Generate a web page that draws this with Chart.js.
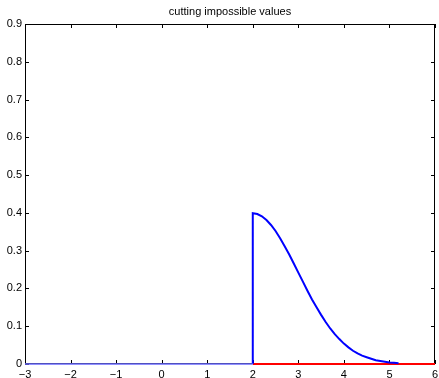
<!DOCTYPE html>
<html>
<head>
<meta charset="utf-8">
<script src="https://cdn.jsdelivr.net/npm/chart.js@4"></script>
<style>
  html, body { margin: 0; padding: 0; background: #fff; }
  #wrap { width: 439px; height: 378px; }
</style>
</head>
<body>
<div id="wrap"><canvas id="myChart"></canvas></div>
<script>
// values
let chartTitle = 'cutting impossible values';
let xTicks = [-3, -2, -1, 0, 1, 2, 3, 4, 5, 6];
let yTicks = [0, 0.1, 0.2, 0.3, 0.4, 0.5, 0.6, 0.7, 0.8, 0.9];

// blue: flat part left of the cut
let flatX = [-3, 2];
let flatY = [0, 0];

// blue: the cut and the remaining curve
let curveX = [2, 2, 2.1, 2.2, 2.3, 2.4, 2.5, 2.6, 2.7, 2.8, 2.9, 3.0, 3.1, 3.2, 3.3, 3.4, 3.5,
  3.6, 3.7, 3.8, 3.9, 4.0, 4.1, 4.2, 4.3, 4.4, 4.5, 4.6, 4.7, 4.8, 4.9, 5.0, 5.1, 5.2];
let curveY = [0, 0.399, 0.397, 0.391, 0.381, 0.368, 0.352, 0.333, 0.312, 0.290, 0.266, 0.242,
  0.218, 0.194, 0.171, 0.150, 0.130, 0.111, 0.094, 0.079, 0.066, 0.054, 0.044, 0.035, 0.028,
  0.022, 0.018, 0.014, 0.010, 0.008, 0.006, 0.004, 0.003, 0.002];

// red: zero line right of the cut
let redX = [2, 6];
let redY = [0, 0];

function toPoints(xs, ys) {
    return xs.map((x, i) => ({ x: x, y: ys[i] }));
}

// matlab style box with inward ticks, title centred over the axes
let boxPlugin = {
    id: 'box',
    beforeDatasetsDraw(chart) {
        let c = chart.ctx, a = chart.chartArea;
        let sx = chart.scales.x, sy = chart.scales.y;
        c.save();
        c.strokeStyle = '#000';
        c.lineWidth = 1;
        c.beginPath();
        c.rect(a.left + 0.5, a.top + 0.5, a.right - a.left - 1, a.bottom - a.top - 1);
        xTicks.forEach(v => {
            let px = Math.round(sx.getPixelForValue(v)) + 0.5;
            c.moveTo(px, a.bottom); c.lineTo(px, a.bottom - 4);
            c.moveTo(px, a.top); c.lineTo(px, a.top + 4);
        });
        yTicks.forEach(v => {
            let py = Math.round(sy.getPixelForValue(v)) + 0.5;
            c.moveTo(a.left, py); c.lineTo(a.left + 4, py);
            c.moveTo(a.right, py); c.lineTo(a.right - 4, py);
        });
        c.stroke();

        c.fillStyle = '#000';
        c.font = '11px "Liberation Sans", Arial, sans-serif';
        c.textAlign = 'center';
        c.textBaseline = 'middle';
        c.fillText(chartTitle, (a.left + a.right) / 2, 12);
        c.restore();
    }
};

let tickFont = { family: 'Liberation Sans, Arial, sans-serif', size: 11 };

new Chart(document.getElementById('myChart'), {
    type: 'scatter',
    data: {
        datasets: [{
            data: toPoints(flatX, flatY),
            showLine: true,
            borderColor: '#6b6bff',
            borderWidth: 1.5,
            pointRadius: 0,
            clip: false
        }, {
            data: toPoints(curveX, curveY),
            showLine: true,
            borderColor: '#0000ff',
            borderWidth: 2,
            pointRadius: 0,
            clip: false
        }, {
            data: toPoints(redX, redY),
            showLine: true,
            borderColor: '#ff0000',
            borderWidth: 2,
            pointRadius: 0,
            clip: false
        }]
    },
    options: {
        responsive: true,
        maintainAspectRatio: false,
        animation: false,
        layout: { padding: { left: 0, right: 4, top: 24, bottom: 0 } },
        plugins: {
            legend: { display: false },
            tooltip: { enabled: false },
            title: { display: false }
        },
        scales: {
            x: {
                type: 'linear',
                min: -3,
                max: 6,
                afterBuildTicks: s => { s.ticks = xTicks.map(v => ({ value: v })); },
                afterFit: s => { s.height = 14; s.paddingLeft = 0; s.paddingRight = 0; },
                grid: { display: false, drawTicks: false },
                border: { display: false },
                ticks: {
                    color: '#000',
                    font: tickFont,
                    padding: 4,
                    maxRotation: 0,
                    callback: v => String(v).replace('-', '\u2212')
                }
            },
            y: {
                type: 'linear',
                min: 0,
                max: 0.9,
                afterBuildTicks: s => { s.ticks = yTicks.map(v => ({ value: v })); },
                afterFit: s => { s.width = 25; s.paddingTop = 0; s.paddingBottom = 0; },
                grid: { display: false, drawTicks: false },
                border: { display: false },
                ticks: {
                    color: '#000',
                    font: tickFont,
                    padding: 3,
                    callback: v => String(v)
                }
            }
        }
    },
    plugins: [boxPlugin]
});
</script>
</body>
</html>
